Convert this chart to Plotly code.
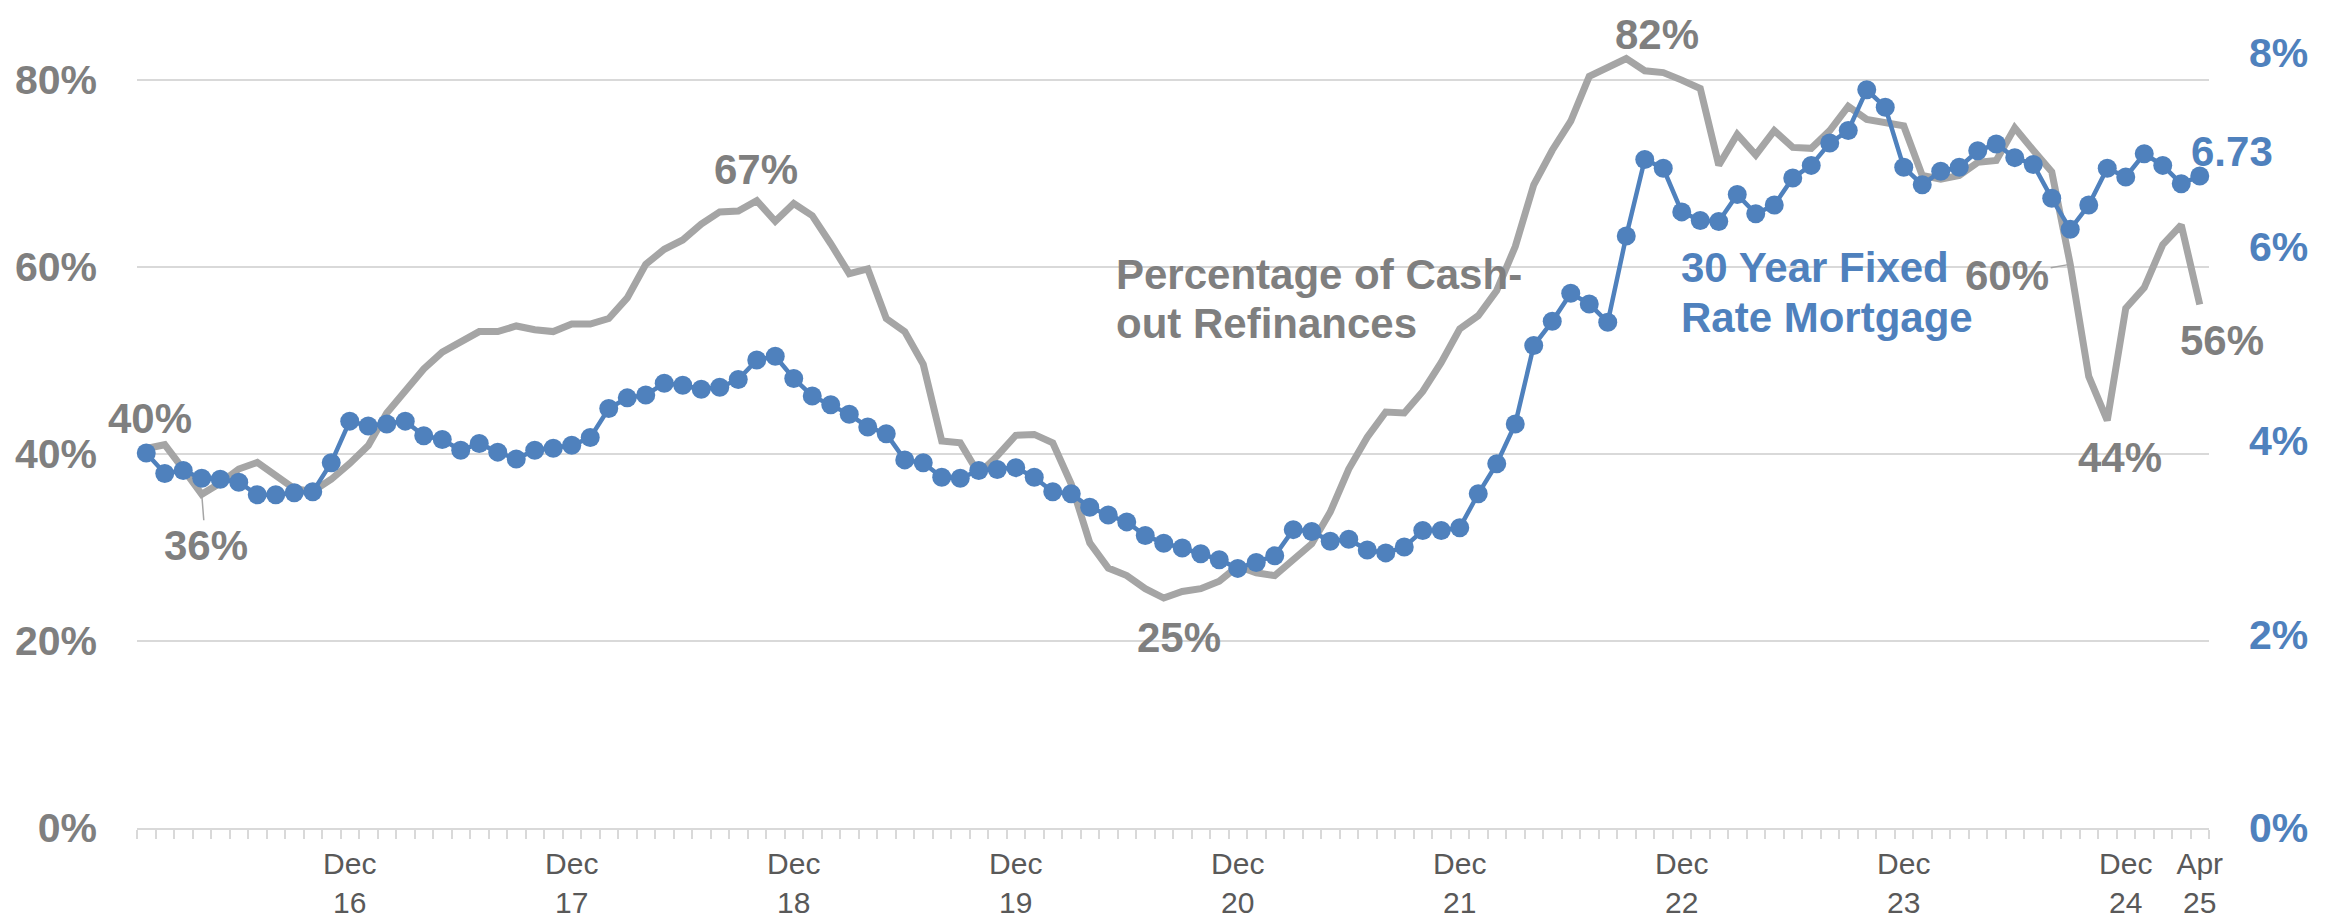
import plotly.graph_objects as go
import pandas as pd

# ---------------- data ----------------
months = pd.date_range("2016-01-01", "2025-04-01", freq="MS").strftime("%b %y").tolist()

cash_out_pct = [
    40.6, 41.0, 38.4, 35.7, 36.9, 38.4, 39.1, 37.6, 36.3, 36.0, 37.3, 39.0,   # 2016
    40.9, 44.4, 46.9, 49.1, 50.9, 52.1, 53.1, 53.1, 53.7, 53.3, 53.1, 53.9,   # 2017
    53.9, 54.5, 56.7, 60.3, 61.9, 62.9, 64.6, 65.9, 66.0, 67.1, 64.9, 66.8,   # 2018
    65.5, 62.5, 59.3, 59.8, 54.5, 53.1, 49.6, 41.4, 41.2, 37.9, 39.8, 42.0,   # 2019
    42.1, 41.2, 36.8, 30.5, 27.8, 27.0, 25.6, 24.6, 25.3, 25.6, 26.4, 28.0,   # 2020
    27.3, 27.0, 28.7, 30.4, 33.8, 38.4, 41.8, 44.5, 44.4, 46.7, 49.8, 53.4,   # 2021
    54.8, 57.5, 62.2, 68.8, 72.5, 75.6, 80.4, 81.4, 82.3, 81.0, 80.8, 80.0,   # 2022
    79.1, 70.9, 74.2, 72.0, 74.6, 72.8, 72.7, 74.6, 77.2, 75.8, 75.5, 75.1,   # 2023
    69.8, 69.4, 69.8, 71.2, 71.4, 74.9, 72.5, 70.2, 60.3, 48.3, 43.6, 55.6,   # 2024
    57.8, 62.4, 64.5, 56.0,                                                   # 2025
]

mortgage_rate = [
    3.87, 3.66, 3.69, 3.61, 3.60, 3.57, 3.44, 3.44, 3.46, 3.47, 3.77, 4.20,
    4.15, 4.17, 4.20, 4.05, 4.01, 3.90, 3.97, 3.88, 3.81, 3.90, 3.92, 3.95,
    4.03, 4.33, 4.44, 4.47, 4.59, 4.57, 4.53, 4.55, 4.63, 4.83, 4.87, 4.64,
    4.46, 4.37, 4.27, 4.14, 4.07, 3.80, 3.77, 3.62, 3.61, 3.69, 3.70, 3.72,
    3.62, 3.47, 3.45, 3.31, 3.23, 3.16, 3.02, 2.94, 2.89, 2.83, 2.77, 2.68,
    2.74, 2.81, 3.08, 3.06, 2.96, 2.98, 2.87, 2.84, 2.90, 3.07, 3.07, 3.10,
    3.45, 3.76, 4.17, 4.98, 5.23, 5.52, 5.41, 5.22, 6.11, 6.90, 6.81, 6.36,
    6.27, 6.26, 6.54, 6.34, 6.43, 6.71, 6.84, 7.07, 7.20, 7.62, 7.44, 6.82,
    6.64, 6.78, 6.82, 6.99, 7.06, 6.92, 6.85, 6.50, 6.18, 6.43, 6.81, 6.72,
    6.96, 6.84, 6.65, 6.73,
]

x_label_months = ["Dec 16", "Dec 17", "Dec 18", "Dec 19", "Dec 20",
                  "Dec 21", "Dec 22", "Dec 23", "Dec 24", "Apr 25"]
x_tick_text = ["Dec<br>16", "Dec<br>17", "Dec<br>18", "Dec<br>19", "Dec<br>20",
               "Dec<br>21", "Dec<br>22", "Dec<br>23", "Dec<br>24", "Apr<br>25"]

left_ticks = [0, 0.2, 0.4, 0.6, 0.8]
left_tick_text = ["0%", "20%", "40%", "60%", "80%"]
right_ticks = [0, 2, 4, 6, 8]
right_tick_text = ["0%", "2%", "4%", "6%", "8%"]

# ---------------- styling ----------------
FONT = "Liberation Sans, Arial, sans-serif"
GRAY_LINE = "#A5A5A5"
GRAY_TEXT = "#7F7F7F"
BLUE = "#4F81BD"

xi = list(range(len(months)))
cash_frac = [v / 100 for v in cash_out_pct]
idx = {m: i for i, m in enumerate(months)}
tickvals = [idx[m] for m in x_label_months]

fig = go.Figure()
fig.add_trace(go.Scatter(
    x=xi, y=cash_frac, mode="lines", yaxis="y",
    line=dict(color=GRAY_LINE, width=7), cliponaxis=False,
    hovertext=months, name="Percentage of Cash-out Refinances"))
fig.add_trace(go.Scatter(
    x=xi, y=mortgage_rate, mode="lines+markers", yaxis="y2",
    line=dict(color=BLUE, width=4.5), marker=dict(size=19, color=BLUE),
    cliponaxis=False, hovertext=months, name="30 Year Fixed Rate Mortgage"))

big = dict(family=FONT, size=42, color=GRAY_TEXT, weight="bold")
bigblue = dict(family=FONT, size=42, color=BLUE, weight="bold")

# plot area in page pixels: x 137..2209, y 53..828
PX0, PX1, PY0, PY1 = 137, 2209, 53, 828

def lab(text, i, yfrac, font=big, xanchor="center"):
    fig.add_annotation(text=text, x=i, y=yfrac, xref="x", yref="y",
                       showarrow=False, font=font, xanchor=xanchor, yanchor="middle")

def lab_paper(text, px, py, font=big):
    fig.add_annotation(text=text, x=(px - PX0) / (PX1 - PX0), y=(PY1 - py) / (PY1 - PY0),
                       xref="paper", yref="paper",
                       showarrow=False, font=font, xanchor="center", yanchor="middle")

lab("40%", 0.2, 0.4385)
lab("67%", 32.96, 0.704)
lab("25%", 55.8, 0.204)
lab("44%", 106.68, 0.396)
lab("Percentage of Cash-", 52.3, 0.592, xanchor="left")
lab("out Refinances", 52.3, 0.540, xanchor="left")
lab("30 Year Fixed", 82.85, 0.600, font=bigblue, xanchor="left")
lab("Rate Mortgage", 82.85, 0.546, font=bigblue, xanchor="left")
# labels sitting outside the plotting area (paper coordinates)
lab_paper("82%", 1657, 34)
lab_paper("56%", 2222, 340)
lab_paper("6.73", 2232, 152, font=bigblue)

# labels with leader lines
fig.add_annotation(text="36%", x=3, y=cash_frac[3], xref="x", yref="y",
                   showarrow=True, arrowhead=0, arrowwidth=1.5, arrowcolor=GRAY_LINE,
                   ax=4, ay=51, font=big, standoff=0)
fig.add_annotation(text="60%", x=104, y=cash_frac[104], xref="x", yref="y",
                   showarrow=True, arrowhead=0, arrowwidth=1.5, arrowcolor=GRAY_LINE,
                   ax=-63, ay=11, font=big, standoff=2)

# the page body has an 8px default margin; size the figure so the plot lands
# on the same page pixels as the reference
OFF = 8
W, H = 2338 - 2 * OFF, 919 - OFF
fig.update_layout(
    width=W, height=H,
    margin=dict(l=PX0 - OFF, r=(OFF + W) - PX1, t=PY0 - OFF, b=(OFF + H) - PY1,
                autoexpand=False),
    paper_bgcolor="white", plot_bgcolor="white",
    showlegend=False,
    font=dict(family=FONT),
    xaxis=dict(
        range=[-0.5, len(months) - 0.5],
        tickmode="array", tickvals=tickvals, ticktext=x_tick_text,
        tickfont=dict(family=FONT, size=30, color="#595959"),
        ticks="outside", ticklen=8, tickcolor="rgba(0,0,0,0)",
        ticklabelstandoff=0, automargin=False,
        showline=True, linecolor="#D9D9D9", linewidth=2,
        showgrid=False, zeroline=False,
        minor=dict(tickmode="linear", tick0=-0.5, dtick=1, ticks="outside",
                   ticklen=9, tickcolor="#D9D9D9", tickwidth=1.5, showgrid=False),
    ),
    yaxis=dict(
        range=[0, 0.829],
        tickmode="array", tickvals=left_ticks, ticktext=left_tick_text,
        tickfont=dict(family=FONT, size=41, color=GRAY_TEXT, weight="bold"),
        showgrid=True, gridcolor="#D9D9D9", gridwidth=1.5,
        zeroline=False, showline=False, ticks="",
        ticklabelstandoff=39, automargin=False,
    ),
    yaxis2=dict(
        range=[0, 8], overlaying="y", side="right",
        tickmode="array", tickvals=right_ticks, ticktext=right_tick_text,
        tickfont=dict(family=FONT, size=41, color=BLUE, weight="bold"),
        showgrid=False, zeroline=False, showline=False, ticks="",
        ticklabelstandoff=39, automargin=False,
    ),
)

fig.write_html("out.html")
